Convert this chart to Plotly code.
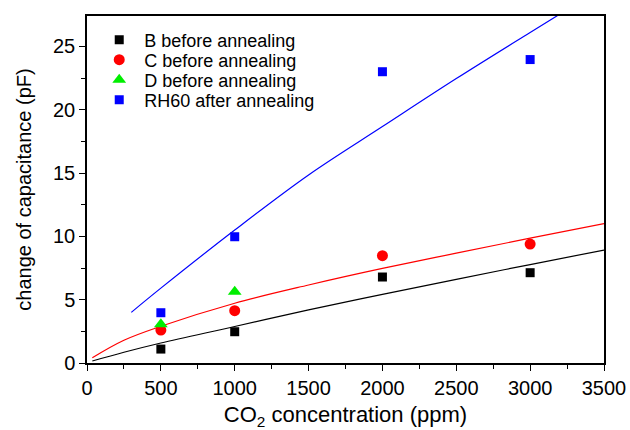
import plotly.graph_objects as go

# measured data
conc = [500, 1000, 2000, 3000]
b_before = [1.1, 2.47, 6.79, 7.13]
c_before = [2.6, 4.13, 8.47, 9.39]
d_conc = [500, 1000]
d_before = [3.05, 5.63]
rh60_after = [3.97, 9.97, 23.0, 23.96]

# fitted curves
fit_b_x = [36, 250, 500, 1000, 1500, 2000, 2500, 3000, 3500]
fit_b_y = [0.16, 0.85, 1.58, 2.88, 4.2, 5.42, 6.61, 7.77, 8.92]
fit_c_x = [36, 250, 500, 1000, 1500, 2000, 2500, 3000, 3500]
fit_c_y = [0.42, 1.8, 2.9, 4.72, 6.16, 7.47, 8.67, 9.86, 11.0]
fit_rh_x = [300, 500, 1000, 1500, 2000, 2500, 3000, 3500]
fit_rh_y = [4.0, 5.91, 10.5, 14.85, 18.67, 22.46, 26.1, 29.7]

series_names = ["B before annealing", "C before annealing", "D before annealing", "RH60 after annealing"]

FONT = "Liberation Sans, Arial, sans-serif"

fig = go.Figure()

line_w = 1.2
fig.add_trace(go.Scatter(x=fit_b_x, y=fit_b_y, mode="lines", line=dict(color="black", width=line_w, shape="spline"), showlegend=False))
fig.add_trace(go.Scatter(x=fit_c_x, y=fit_c_y, mode="lines", line=dict(color="red", width=line_w, shape="spline"), showlegend=False))
fig.add_trace(go.Scatter(x=fit_rh_x, y=fit_rh_y, mode="lines", line=dict(color="blue", width=line_w, shape="spline"), showlegend=False))

fig.add_trace(go.Scatter(x=conc, y=b_before, mode="markers", name=series_names[0], legend="legend",
                         marker=dict(symbol="square", color="black", size=9)))
fig.add_trace(go.Scatter(x=conc, y=c_before, mode="markers", name=series_names[1], legend="legend2",
                         marker=dict(symbol="circle", color="red", size=11)))
fig.add_trace(go.Scatter(x=d_conc, y=d_before, mode="markers", name=series_names[2], legend="legend3",
                         marker=dict(symbol="triangle-up", color="#00ee00", size=12)))
fig.add_trace(go.Scatter(x=conc, y=rh60_after, mode="markers", name=series_names[3], legend="legend4",
                         marker=dict(symbol="square", color="blue", size=9)))

axis_common = dict(
    showline=True, linecolor="black", linewidth=1.5, mirror=True,
    ticks="outside", ticklen=6, tickwidth=1.2, tickcolor="black",
    showgrid=False, zeroline=False,
    tickfont=dict(family=FONT, size=20, color="black"),
)

fig.update_xaxes(
    range=[0, 3500], dtick=500, tick0=0, automargin=False,
    minor=dict(ticks="outside", ticklen=4, tickwidth=1, tickcolor="black", dtick=250),
    title=dict(text="CO<sub>2</sub> concentration (ppm)", font=dict(family=FONT, size=22, color="black"), standoff=12),
    **axis_common,
)
fig.update_yaxes(
    range=[0, 27.4], dtick=5, tick0=0, automargin=True,
    minor=dict(ticks="outside", ticklen=4, tickwidth=1, tickcolor="black", dtick=2.5),
    title=dict(text="change of capacitance (pF)", font=dict(family=FONT, size=20, color="black"), standoff=16),
    **axis_common,
)

legend_style = dict(xanchor="left", yanchor="middle", x=0.014,
                    bgcolor="rgba(0,0,0,0)", font=dict(family=FONT, size=18, color="black"),
                    itemwidth=40)
row_y = [0.9308, 0.8732, 0.8156, 0.7579]

fig.update_layout(
    width=630, height=430,
    margin=dict(l=87, r=26, t=16, b=67),
    paper_bgcolor="white", plot_bgcolor="white",
    legend=dict(y=row_y[0], **legend_style),
    legend2=dict(y=row_y[1], **legend_style),
    legend3=dict(y=row_y[2], **legend_style),
    legend4=dict(y=row_y[3], **legend_style),
)

fig.write_html("out.html")
